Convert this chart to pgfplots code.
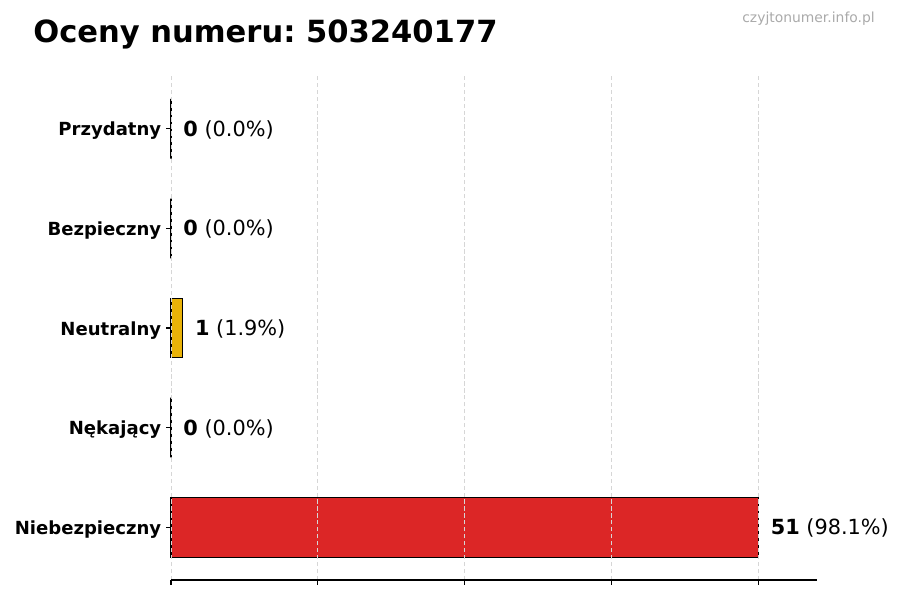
\documentclass[border=0pt]{standalone}
\usepackage{fontspec}
\setmainfont{DejaVu Sans}
\usepackage{pgfplots}
\pgfplotsset{compat=1.18}
\definecolor{zly}{HTML}{DC2626}
\definecolor{neutralny}{HTML}{EAB308}
\definecolor{dobry}{HTML}{16A34A}
\definecolor{nekajacy}{HTML}{F97316}
\definecolor{siatka}{HTML}{D6D6D6}
\definecolor{znak}{HTML}{AAAAAA}
\frenchspacing

\begin{document}
\begin{tikzpicture}[x=0.72pt,y=0.72pt]
  % 1 px of the 900x600 reference = 0.72pt
  \path[use as bounding box] (0,0) rectangle (900,600);
  \node[anchor=base west, inner sep=0pt, font=\bfseries\fontsize{22}{26}\selectfont]
    at (33,557) {Oceny numeru: 503240177};
  \node[anchor=base east, inner sep=0pt, text=znak, font=\fontsize{10}{12}\selectfont]
    at (875,577) {czyjtonumer.info.pl};
  \begin{axis}[
      at={(123.12pt,14.4pt)}, anchor=south west,
      scale only axis,
      width=465.12pt,
      height=362.88pt,
      xbar,
      bar width=0.6,
      bar shift=0pt,
      xmin=0, xmax=56.1,
      ymin=-0.53, ymax=4.53,
      xtick={0,12.75,25.5,38.25,51},
      xticklabels={},
      ytick={0,1,2,3,4},
      yticklabels={Niebezpieczny,Nękający,Neutralny,Bezpieczny,Przydatny},
      yticklabel style={font=\bfseries\fontsize{13}{15}\selectfont, yshift=-1.6pt},
      axis lines*=left,
      y axis line style={draw=none},
      x axis line style={black, line width=0.8pt},
      tick style={black, line width=0.8pt},
      major tick length=3.5pt,
      tick align=outside,
      xmajorgrids=true,
      ymajorgrids=false,
      grid style={siatka, line width=0.6pt, dash pattern=on 3pt off 2pt},
      axis on top,
      clip=false,
      nodes near coords,
      point meta=explicit symbolic,
      every node near coord/.append style={anchor=west, inner sep=0pt, xshift=8.6pt,
        yshift=-0.7pt, font=\fontsize{15}{18}\selectfont, text=black},
  ]
    \addplot[fill=zly, draw=black, line width=0.8pt]
      coordinates {(51,0) [\textbf{51} (98.1\%)]};
    \addplot[fill=nekajacy, draw=black, line width=0.8pt]
      coordinates {(0,1) [\textbf{0} (0.0\%)]};
    \addplot[fill=neutralny, draw=black, line width=0.8pt]
      coordinates {(1,2) [\textbf{1} (1.9\%)]};
    \addplot[fill=dobry, draw=black, line width=0.8pt]
      coordinates {(0,3) [\textbf{0} (0.0\%)]};
    \addplot[fill=dobry, draw=black, line width=0.8pt]
      coordinates {(0,4) [\textbf{0} (0.0\%)]};
  \end{axis}
\end{tikzpicture}
\end{document}
